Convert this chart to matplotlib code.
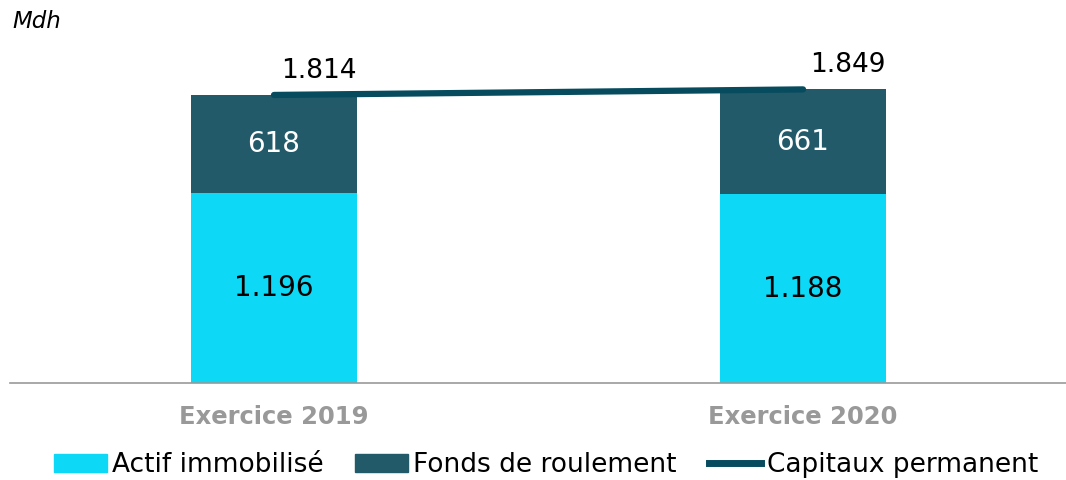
import matplotlib
matplotlib.use('Agg')
import matplotlib.pyplot as plt
import matplotlib.patches as mpatches
import matplotlib.lines as mlines
import numpy as np

categories = ['Exercice 2019', 'Exercice 2020']
actif = [1196, 1188]
fonds = [618, 661]
capitaux = [1814, 1849]
actif_lbl = ['1.196', '1.188']
fonds_lbl = ['618', '661']
capitaux_lbl = ['1.814', '1.849']

c_actif = '#0DD8F5'
c_fonds = '#225A6A'
c_line = '#064B5E'

fig = plt.figure(figsize=(10.66, 4.8), dpi=100)
ax = fig.add_axes([10 / 1066, 97 / 480, 1056 / 1066, 383 / 480])

x = np.arange(len(categories))
w = 0.314
ax.bar(x, actif, w, color=c_actif)
ax.bar(x, fonds, w, bottom=actif, color=c_fonds)
ax.plot(x, capitaux, color=c_line, lw=4.5, solid_capstyle='round')

for i in x:
    ax.text(i, actif[i] / 2, actif_lbl[i], ha='center', va='center',
            fontsize=20, color='black')
    ax.text(i, actif[i] + fonds[i] / 2, fonds_lbl[i], ha='center', va='center',
            fontsize=20, color='white')
    ax.text(i + 0.085, capitaux[i] + 70, capitaux_lbl[i], ha='center', va='bottom',
            fontsize=19, color='black')

ax.set_xlim(-0.499, 1.497)
ax.set_ylim(0, 2412)
ax.set_yticks([])
ax.set_xticks(x)
ax.set_xticklabels(categories, fontsize=17.5, fontweight='bold', color='#999999')
ax.tick_params(axis='x', length=0, pad=16)
for s in ['top', 'right', 'left']:
    ax.spines[s].set_visible(False)
ax.spines['bottom'].set_color('#999999')
ax.spines['bottom'].set_linewidth(1.2)

fig.text(12 / 1066, 1 - 22 / 480, 'Mdh', fontsize=16.5, style='italic',
         va='center', ha='left')

handles = [mpatches.Patch(color=c_actif, label='Actif immobilisé'),
           mpatches.Patch(color=c_fonds, label='Fonds de roulement'),
           mlines.Line2D([], [], color=c_line, lw=5, label='Capitaux permanent')]
fig.legend(handles=handles, loc='center', bbox_to_anchor=(546 / 1066, 1 - 465 / 480),
           ncol=3, frameon=False, prop={'size': 19},
           handlelength=2.0, handletextpad=0.2, columnspacing=1.2)

fig.savefig('out.png', dpi=100)
